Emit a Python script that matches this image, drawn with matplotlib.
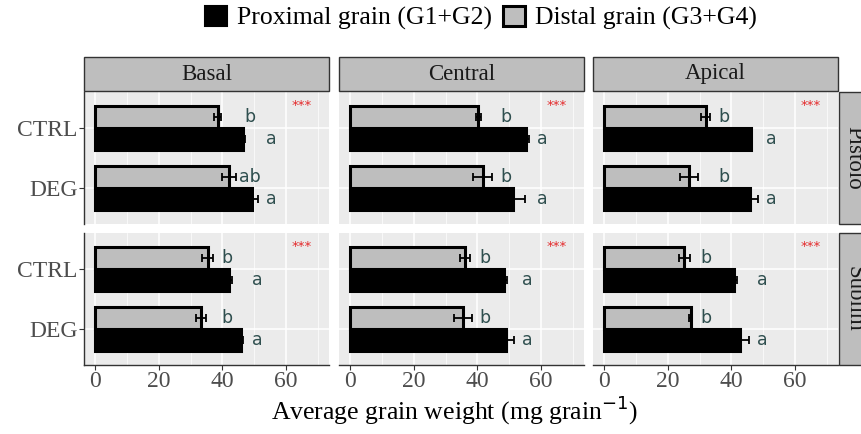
import numpy as np
import matplotlib.pyplot as plt
from matplotlib.patches import Patch, Rectangle

plt.rcParams['font.family'] = ['Liberation Serif', 'DejaVu Serif']

# facets and categories
sites = ['Basal', 'Central', 'Apical']
cultivars = ['Pistolo', 'Sublim']
treatments = ['CTRL', 'DEG']

# proximal grain (G1+G2) mean and se, [cultivar][site][treatment]
prox_mean = [[[46.6, 49.2], [55.3, 51.1], [46.1, 45.8]],
             [[42.1, 45.7], [48.4, 49.0], [40.9, 42.8]]]
prox_se = [[[0.5, 1.9], [0.8, 4.0], [0.5, 2.5]],
           [[0.8, 0.9], [1.0, 2.4], [0.8, 2.6]]]
# distal grain (G3+G4)
dist_mean = [[[38.5, 42.2], [40.3, 41.7], [31.9, 26.7]],
             [[35.4, 33.3], [36.1, 35.4], [25.2, 27.2]]]
dist_se = [[[1.0, 2.2], [0.7, 3.0], [1.4, 2.9]],
           [[1.7, 1.6], [1.6, 2.8], [1.7, 0.5]]]
# letters
prox_letters = [[['a', 'a'], ['a', 'a'], ['a', 'a']],
                [['a', 'a'], ['a', 'a'], ['a', 'a']]]
dist_letters = [[['b', 'ab'], ['b', 'b'], ['b', 'b']],
                [['b', 'b'], ['b', 'b'], ['b', 'b']]]
signif = '***'

W, H = 861, 434
fig = plt.figure(figsize=(W / 100, H / 100), dpi=100)

col_x = [84, 339, 593]
pw = 245
row_y = [(92, 224), (233, 365)]

grey_fill = '#BEBEBE'
tick_col = '#4D4D4D'
ypos = {'CTRL': 2, 'DEG': 1}
bh = 0.365

for r, cv in enumerate(cultivars):
    top, bot = row_y[r]
    for c, site in enumerate(sites):
        ax = fig.add_axes([col_x[c] / W, 1 - bot / H, pw / W, (bot - top) / H])
        ax.set_facecolor('#EBEBEB')
        ax.set_xlim(-3.5, 73.5)
        ax.set_ylim(0.4, 2.6)
        ax.set_xticks([0, 20, 40, 60])
        ax.set_xticks([10, 30, 50, 70], minor=True)
        ax.set_yticks([2, 1])
        ax.grid(True, which='major', color='white', lw=1.1, zorder=0)
        ax.grid(True, which='minor', axis='x', color='white', lw=0.5, zorder=0)
        ax.set_axisbelow(True)
        for s in ax.spines.values():
            s.set_visible(False)

        y = np.array([ypos[t] for t in treatments])
        pm, ps = np.array(prox_mean[r][c]), np.array(prox_se[r][c])
        dm, ds = np.array(dist_mean[r][c]), np.array(dist_se[r][c])

        ax.barh(y - bh / 2, pm, height=bh, color='black', edgecolor='black',
                lw=2.2, zorder=2)
        ax.barh(y + bh / 2, dm, height=bh, color=grey_fill, edgecolor='black',
                lw=2.2, zorder=2)
        ax.errorbar(pm, y - bh / 2, xerr=ps, fmt='none', ecolor='black',
                    elinewidth=1.3, capsize=3, capthick=1.3, zorder=3)
        ax.errorbar(dm, y + bh / 2, xerr=ds, fmt='none', ecolor='black',
                    elinewidth=1.3, capsize=3, capthick=1.3, zorder=3)

        # letters sit a little right of the longest bar+se in each grain group
        px = (pm + ps).max() + 4.3
        dx = (dm + ds).max() + 4.3
        for i in range(len(treatments)):
            ax.text(px, y[i] - bh / 2, prox_letters[r][c][i], ha='center',
                    va='center', fontsize=12.5, color='#2F4F4F',
                    family='DejaVu Sans')
            ax.text(dx, y[i] + bh / 2, dist_letters[r][c][i], ha='center',
                    va='center', fontsize=12.5, color='#2F4F4F',
                    family='DejaVu Sans')
        ax.text(65, 2.38, signif, ha='center', va='center', fontsize=9.5,
                color='#E4292B', family='DejaVu Sans')

        if c == 0:
            ax.spines['left'].set_visible(True)
            ax.spines['left'].set_color('#333333')
            ax.spines['left'].set_linewidth(1.0)
            ax.set_yticklabels(treatments)
            ax.tick_params(axis='y', length=3.5, color='#333333',
                           labelsize=17, labelcolor=tick_col, pad=1)
        else:
            ax.tick_params(axis='y', length=0, labelleft=False)
        if r == 1:
            ax.spines['bottom'].set_visible(True)
            ax.spines['bottom'].set_color('#333333')
            ax.spines['bottom'].set_linewidth(1.0)
            ax.tick_params(axis='x', length=3.5, color='#333333',
                           labelsize=17, labelcolor=tick_col, pad=1)
        else:
            ax.tick_params(axis='x', length=0, labelbottom=False)
        ax.tick_params(which='minor', length=0)

        # top strips
        if r == 0:
            fig.patches.append(Rectangle((col_x[c] / W, 1 - 91 / H), pw / W, 34 / H,
                                         transform=fig.transFigure, facecolor=grey_fill,
                                         edgecolor='#333333', lw=1.0))
            fig.text((col_x[c] + pw / 2) / W, 1 - 74 / H, site, ha='center',
                     va='center', fontsize=16.5, color='#1A1A1A')
    # right strips (cut by the figure edge, as in the original)
    fig.patches.append(Rectangle((839 / W, 1 - bot / H), 40 / W, (bot - top) / H,
                                 transform=fig.transFigure, facecolor=grey_fill,
                                 edgecolor='#333333', lw=1.0))
    fig.text(854 / W, 1 - (top + bot) / 2 / H, cv, ha='center', va='center',
             rotation=270, fontsize=16.5, color='#1A1A1A')

fig.text(455 / W, 1 - 410 / H, 'Average grain weight (mg grain$^{-1}$)',
         ha='center', va='center', fontsize=18.5)

handles = [Patch(facecolor='black', edgecolor='black', lw=1.5),
           Patch(facecolor=grey_fill, edgecolor='black', lw=2.2)]
fig.legend(handles, ['Proximal grain (G1+G2)', 'Distal grain (G3+G4)'],
           loc='center', bbox_to_anchor=(481 / W, 1 - 18 / H), ncol=2,
           frameon=False, fontsize=18.5, handlelength=0.85, handleheight=0.85,
           handletextpad=0.4, columnspacing=0.4, borderpad=0)

fig.savefig('out.png', dpi=100)
